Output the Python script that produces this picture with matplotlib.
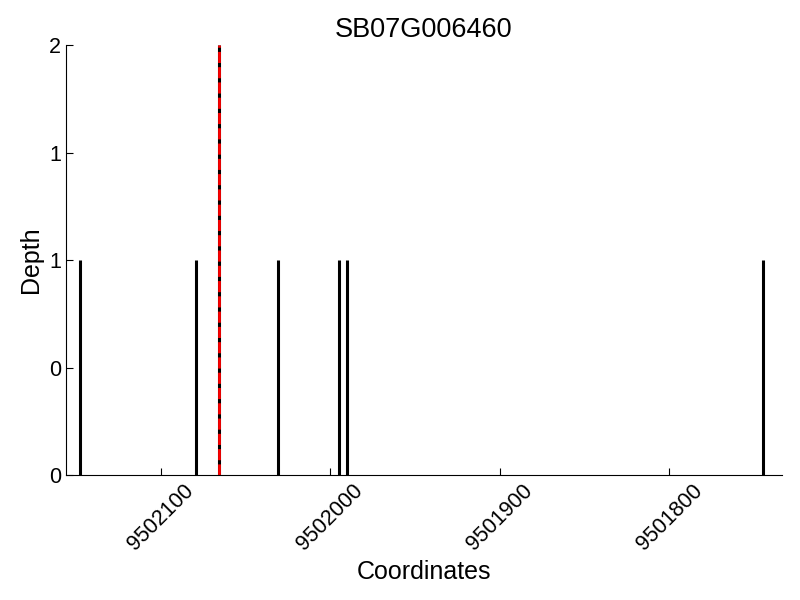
import matplotlib
matplotlib.use("Agg")
import matplotlib.pyplot as plt
from matplotlib.ticker import FormatStrFormatter

plt.rcParams["font.family"] = ["Liberation Sans", "DejaVu Sans"]

# read depth positions and values
positions = [9502147.5, 9502079.5, 9502066, 9502031, 9501995, 9501990, 9501744.5]
depths = [1, 1, 2, 1, 1, 1, 1]
marker_pos = 9502066
title = "SB07G006460"

fig = plt.figure(figsize=(8, 6), dpi=100)
ax = fig.add_axes([0.0825, 0.2083, 0.895, 0.7167])

ax.vlines(positions, 0, depths, colors="black", linewidth=2.2)
ax.axvline(marker_pos, color="red", linestyle=(0, (4, 1.5)), linewidth=2)

ax.set_xlim(9502156, 9501733.5)
ax.set_ylim(0, 2)
ax.set_xticks([9502100, 9502000, 9501900, 9501800])
ax.set_yticks([0, 0.5, 1, 1.5, 2])
ax.yaxis.set_major_formatter(FormatStrFormatter("%d"))
ax.xaxis.set_major_formatter(FormatStrFormatter("%d"))

for s in ["top", "right"]:
    ax.spines[s].set_visible(False)
ax.tick_params(direction="in", labelsize=15.5, length=5)
plt.setp(ax.get_xticklabels(), rotation=45)

ax.set_xlabel("Coordinates", fontsize=18)
ax.set_ylabel("Depth", fontsize=18)
ax.set_title(title, fontsize=19.5)

fig.savefig("out.png", dpi=100)
